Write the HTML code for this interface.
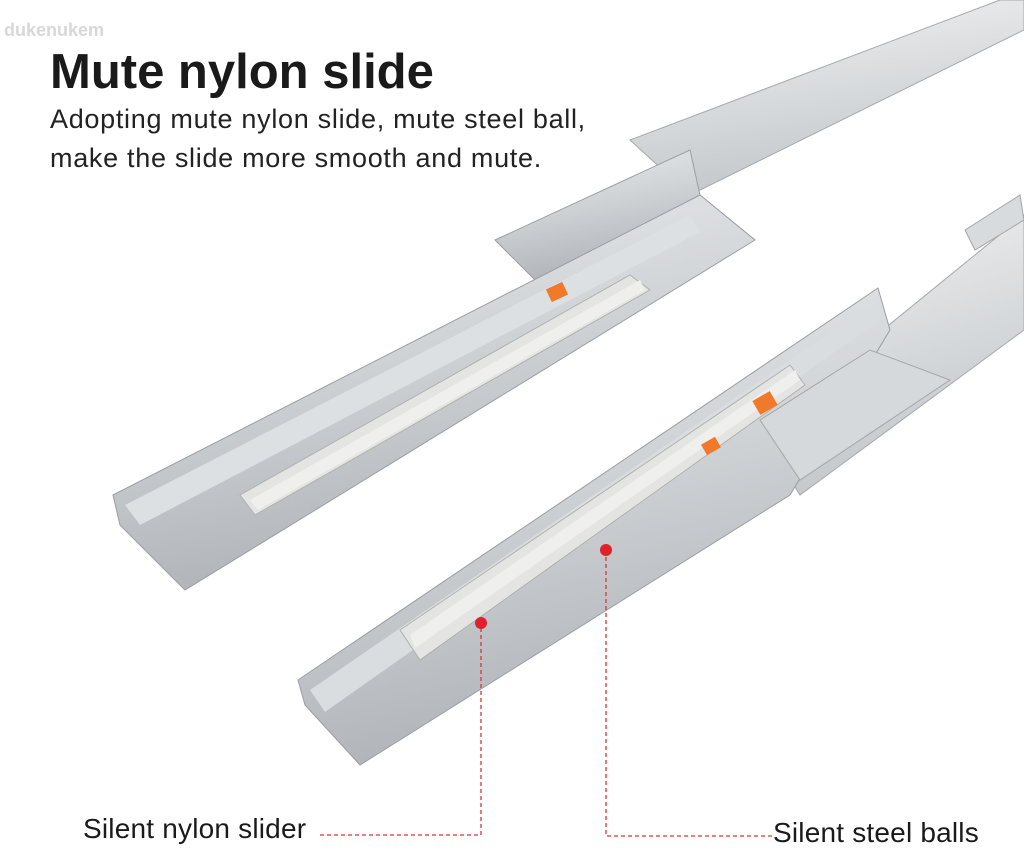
<!DOCTYPE html>
<html><head><meta charset="utf-8"><style>
html,body{margin:0;padding:0;background:#fff;}
body{width:1024px;height:851px;position:relative;overflow:hidden;font-family:"Liberation Sans",sans-serif;}
.t{position:absolute;white-space:nowrap;color:#1a1a1a;}
</style></head><body>
<svg width="1024" height="851" style="position:absolute;left:0;top:0">
<defs>
<linearGradient id="g1" x1="0" y1="0" x2="0.3" y2="1">
<stop offset="0" stop-color="#eceef0"/><stop offset="0.5" stop-color="#cfd2d5"/><stop offset="1" stop-color="#aeb2b6"/></linearGradient>
<linearGradient id="g2" x1="0" y1="0" x2="0.3" y2="1">
<stop offset="0" stop-color="#f2f3f4"/><stop offset="1" stop-color="#c3c7ca"/></linearGradient>
</defs>
<!-- upper outer rail -->
<polygon points="630,140 1000,0 1024,0 1024,30 690,195" fill="url(#g2)" stroke="#a5aaae"/>
<polygon points="495,240 690,150 700,195 540,285" fill="url(#g1)" stroke="#9a9fa4"/>
<!-- upper inner rail -->
<polygon points="113,495 700,195 755,240 185,590 120,525" fill="url(#g1)" stroke="#999ea3"/>
<polygon points="125,505 690,215 700,232 140,525" fill="#dde0e2"/>
<polygon points="240,495 630,275 650,290 255,515" fill="#e4e4e2" stroke="#b0b0b0"/>
<polygon points="250,500 640,280 645,290 258,510" fill="#efefed"/>
<rect x="548" y="285" width="18" height="14" fill="#f07a2a" transform="rotate(-25 557 292)"/>
<!-- lower outer rail -->
<polygon points="760,430 1024,215 1024,330 800,495" fill="url(#g2)" stroke="#a5aaae"/>
<polygon points="965,230 1020,195 1024,220 975,250" fill="#d8dbdd" stroke="#a5a5a5"/>
<!-- lower inner rail -->
<polygon points="298,680 878,288 890,330 790,495 360,765 305,705" fill="url(#g1)" stroke="#999ea3"/>
<polygon points="310,690 870,305 880,320 325,712" fill="#dadddf"/>
<polygon points="400,630 790,365 805,385 420,660" fill="#e4e4e2" stroke="#b0b0b0"/>
<polygon points="410,635 795,370 800,380 415,648" fill="#efefed"/>
<polygon points="760,420 870,350 950,380 800,480" fill="#d6d9dc" stroke="#a5a5a5"/>
<rect x="755" y="395" width="20" height="16" fill="#f07a2a" transform="rotate(-30 765 403)"/>
<rect x="703" y="440" width="16" height="12" fill="#f07a2a" transform="rotate(-30 711 446)"/>
<!-- leaders -->
<g stroke="#d33" stroke-width="1.3" stroke-dasharray="4,3" fill="none">
<polyline points="320,835 481,835 481,623"/>
<polyline points="606,550 606,836 773,836"/>
</g>
<circle cx="481" cy="623" r="6" fill="#e0202a"/>
<circle cx="606" cy="550" r="6" fill="#e0202a"/>
</svg>
<div class="t" style="left:4px;top:20px;font-size:18px;font-weight:bold;color:#d8d8d8">dukenukem</div>
<div class="t" style="left:50px;top:44px;font-size:49px;font-weight:bold">Mute nylon slide</div>
<div class="t" style="left:50px;top:100px;font-size:27px;letter-spacing:0.7px;line-height:39px;color:#222">Adopting mute nylon slide, mute steel ball,<br>make the slide more smooth and mute.</div>
<div class="t" style="left:83px;top:813px;font-size:28px;letter-spacing:0.2px">Silent nylon slider</div>
<div class="t" style="left:773px;top:817px;font-size:28px;letter-spacing:0.2px">Silent steel balls</div>
</body></html>
